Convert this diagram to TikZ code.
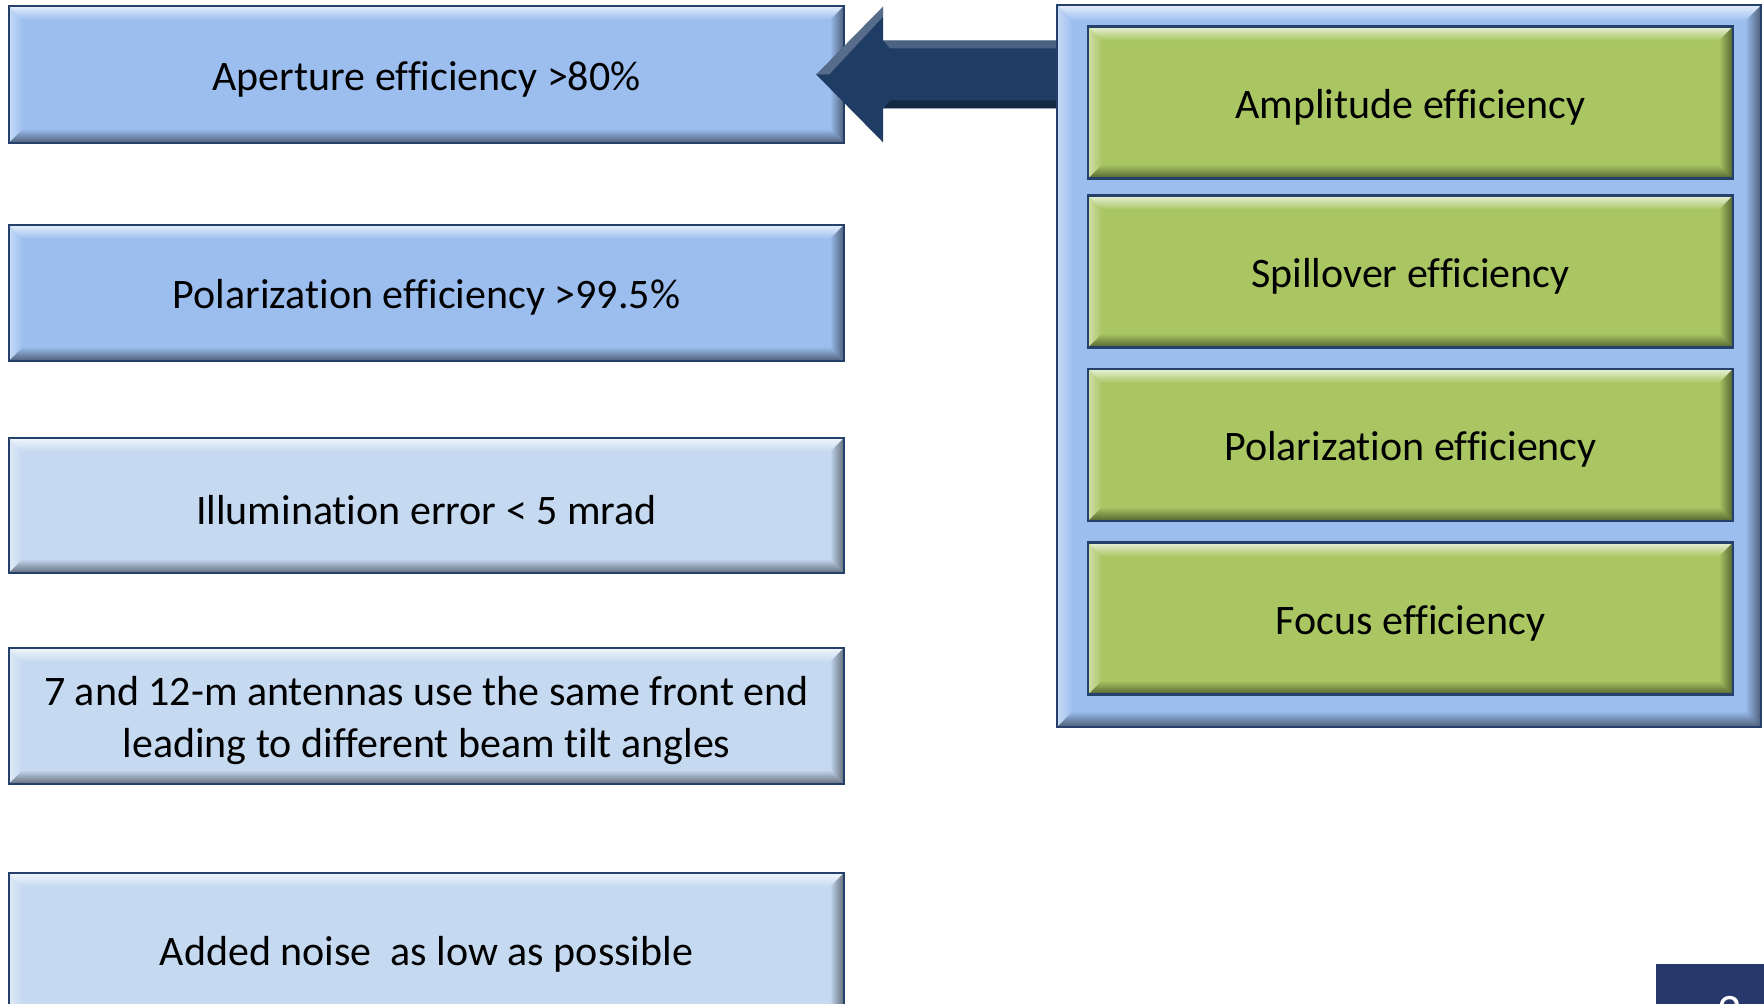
\documentclass[tikz,border=0pt]{standalone}
\usepackage{fontspec}
\setmainfont{Carlito}[Ligatures=CommonOff]
\usetikzlibrary{fadings}
\definecolor{skyb}{HTML}{9BBEEF}
\definecolor{paleb}{HTML}{C5D9F1}
\definecolor{leafg}{HTML}{A9C663}
\definecolor{edgeb}{HTML}{24406B}
\definecolor{arrowb}{HTML}{1F3C64}
\definecolor{pageb}{HTML}{27386B}
\newcommand\lowr[1]{\raisebox{-2.3pt}[\height][\depth]{#1}}
\begin{document}
\begin{tikzpicture}[x=0.5pt,y=-0.5pt,
  bev/.style={path picture={
    \path (path picture bounding box.north west) coordinate (nw) (path picture bounding box.north east) coordinate (ne)
      (path picture bounding box.south west) coordinate (sw) (path picture bounding box.south east) coordinate (se);
    \fill[white,opacity=.75,path fading=south](nw)--(ne)--([shift={(-#1,-#1)}]ne)--([shift={(#1,-#1)}]nw)--cycle;
    \fill[white,opacity=.45,path fading=east](nw)--(sw)--([shift={(#1,#1)}]sw)--([shift={(#1,-#1)}]nw)--cycle;
    \fill[black,opacity=.5,path fading=west](ne)--(se)--([shift={(-#1,#1)}]se)--([shift={(-#1,-#1)}]ne)--cycle;
    \fill[black,opacity=.5,path fading=north](sw)--(se)--([shift={(-#1,#1)}]se)--([shift={(#1,#1)}]sw)--cycle;}},
  tile/.style={draw=edgeb,line width=1.2pt,fill=#1,bev=7pt,minimum width=417.5pt,align=center,
    font=\fontsize{21}{26}\selectfont,inner sep=0pt},
  gbox/.style={tile=leafg,minimum width=322.5pt,minimum height=76pt}]
\useasboundingbox (0,0) rectangle (1764,1004);
\foreach \t/\y/\h/\c [count=\k] in {Aperture efficiency >80\%/74.5/68.5/skyb,
  Polarization efficiency >99.5\%/293/68/skyb,
  Illumination error < 5 mrad/505.5/67.5/paleb,
  {\begin{tabular}{@{}c@{}}7 and 12-m antennas use the same front end\\leading to different beam tilt angles\end{tabular}}/716/68/paleb,
  Added noise\ \ as low as possible/950/77/paleb}
  \node[tile=\c,minimum height=\h pt] (req\k) at (426.5,\y) {\lowr{\t}};
\node[tile=skyb,bev=8pt,minimum width=352pt,minimum height=361pt] (frame) at (1409,366) {};
\foreach \t/\y [count=\k] in {Amplitude efficiency/102.5,Spillover efficiency/271.5,
  Polarization efficiency/445,Focus efficiency/618.5}
  \node[gbox] (eff\k) at (1410.5,\y) {\lowr{\t}};
% fat arrow from the frame to the first box
\coordinate (tip) at ([xshift=-14.5pt]req1.east);
\coordinate (tail) at (tip -| frame.west);
\fill[arrowb] (tip)--++(33.5pt,34pt)--++(0,-17pt)--([yshift=17pt]tail)--([yshift=-17pt]tail)--([shift={(33.5pt,-17pt)}]tip)--++(0,-17pt)--cycle;
\fill[white,opacity=.25] (tip)--++(33.5pt,34pt)--++(0,-5pt)--++(-27pt,-29pt)--cycle;
\fill[white,opacity=.2] ([shift={(33.5pt,17pt)}]tip)--([yshift=17pt]tail)--([yshift=13pt]tail)--([shift={(37pt,13pt)}]tip)--cycle;
\fill[black,opacity=.3] ([shift={(33.5pt,-17pt)}]tip)--([yshift=-17pt]tail)--([yshift=-13pt]tail)--([shift={(37pt,-13pt)}]tip)--cycle;
\node[fill=pageb,anchor=north west,minimum width=54pt,minimum height=40pt] (pgbox) at (1656,964) {};
\node[text=white,anchor=north,inner sep=0pt,font=\fontsize{24}{28}\selectfont] (pgnum) at (1730,996) {2};
\end{tikzpicture}
\end{document}
